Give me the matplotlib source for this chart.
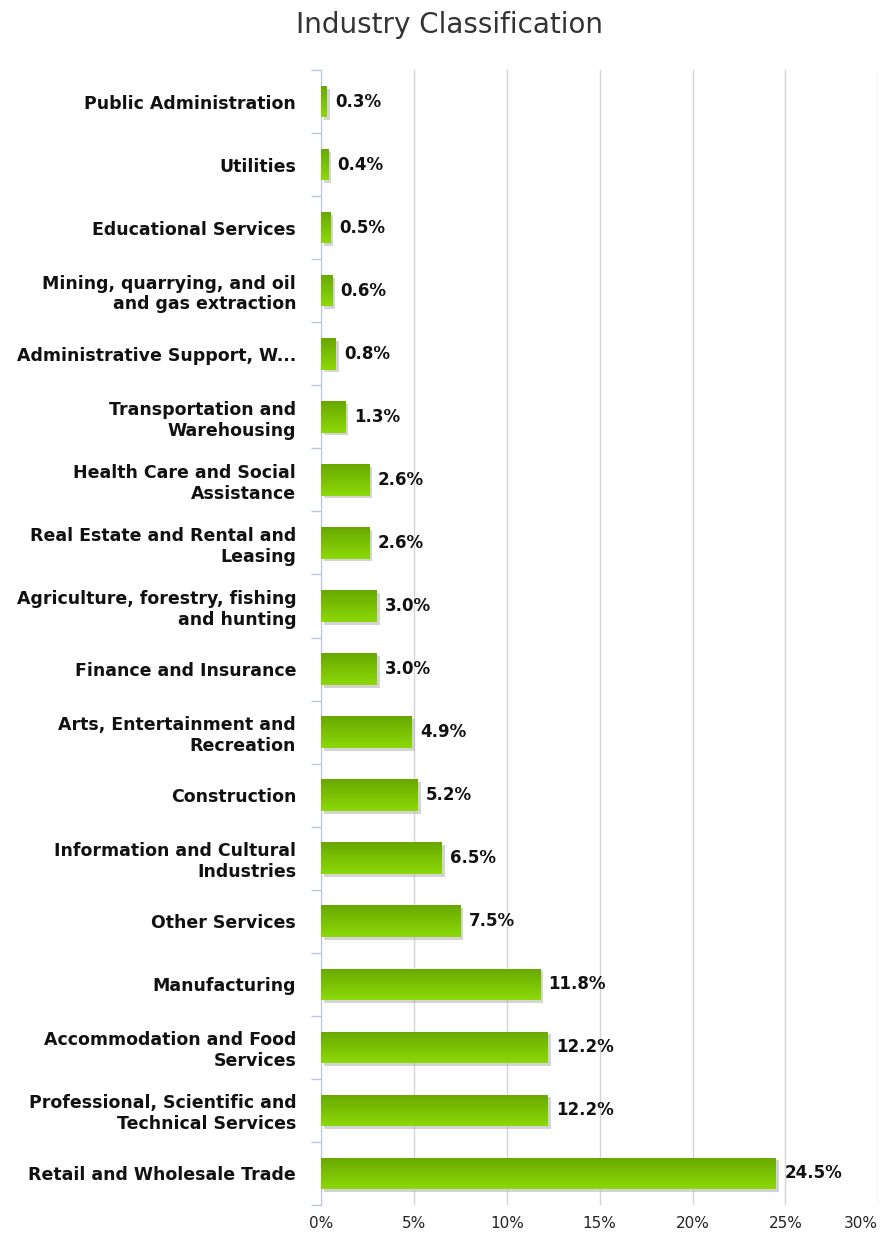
import matplotlib
matplotlib.use("Agg")
import matplotlib.pyplot as plt
import matplotlib.patheffects as pe
import numpy as np
from matplotlib.colors import LinearSegmentedColormap

# categories, top to bottom as shown
industries = [
    "Public Administration",
    "Utilities",
    "Educational Services",
    "Mining, quarrying, and oil\nand gas extraction",
    "Administrative Support, W...",
    "Transportation and\nWarehousing",
    "Health Care and Social\nAssistance",
    "Real Estate and Rental and\nLeasing",
    "Agriculture, forestry, fishing\nand hunting",
    "Finance and Insurance",
    "Arts, Entertainment and\nRecreation",
    "Construction",
    "Information and Cultural\nIndustries",
    "Other Services",
    "Manufacturing",
    "Accommodation and Food\nServices",
    "Professional, Scientific and\nTechnical Services",
    "Retail and Wholesale Trade",
]
shares = [0.3, 0.4, 0.5, 0.6, 0.8, 1.3, 2.6, 2.6, 3.0, 3.0,
          4.9, 5.2, 6.5, 7.5, 11.8, 12.2, 12.2, 24.5]
xticks = [0, 5, 10, 15, 20, 25, 30]

fig = plt.figure(figsize=(8.8, 12.41), dpi=100)
ax = fig.add_axes([0.365, 0.029, 0.633, 0.9146])

ypos = np.arange(len(industries))
bars = ax.barh(ypos, shares, height=0.5, color="#7cc200", zorder=2,
               path_effects=[pe.SimplePatchShadow(offset=(2, -2), shadow_rgbFace="#b8b8b8", alpha=0.6),
                             pe.Normal()])

# vertical gradient on each bar
grad = LinearSegmentedColormap.from_list("g", ["#68a800", "#8cd908"])
for b in bars:
    x0, y0, w, h = b.get_x(), b.get_y(), b.get_width(), b.get_height()
    im = ax.imshow(np.linspace(0, 1, 64).reshape(-1, 1), cmap=grad, aspect="auto",
                   extent=[x0, x0 + w, y0 + h, y0], zorder=3, interpolation="bilinear")
    im.set_clip_path(b)

for b, v in zip(bars, shares):
    ax.text(b.get_width() + 0.45, b.get_y() + b.get_height() / 2, f"{v:.1f}%",
            va="center", ha="left", fontsize=12, fontweight="bold", color="#111111", zorder=4)

ax.set_ylim(len(industries) - 0.5, -0.5)
ax.set_xlim(0, 30)

ax.set_yticks(ypos)
ax.set_yticklabels(industries, fontsize=12.5, fontweight="bold", color="#111111")
ax.tick_params(axis="y", which="major", length=0, pad=18)
ax.set_yticks(np.arange(-0.5, len(industries), 1), minor=True)
ax.tick_params(axis="y", which="minor", length=7, color="#b8c8dc", width=1)

ax.set_xticks(xticks)
ax.set_xticklabels([f"{t}%" for t in xticks], fontsize=11, color="#222222")
ax.tick_params(axis="x", length=0, pad=8)
ax.get_xticklabels()[-1].set_horizontalalignment("right")
ax.grid(axis="x", color="#d4d4d4", linewidth=1, zorder=0)
ax.set_axisbelow(True)

for s in ["top", "right", "bottom"]:
    ax.spines[s].set_visible(False)
ax.spines["left"].set_color("#b8c8dc")

fig.text(0.511, 0.98, "Industry Classification", ha="center", va="center",
         fontsize=20, color="#333333")

fig.savefig("out.png", dpi=100)
